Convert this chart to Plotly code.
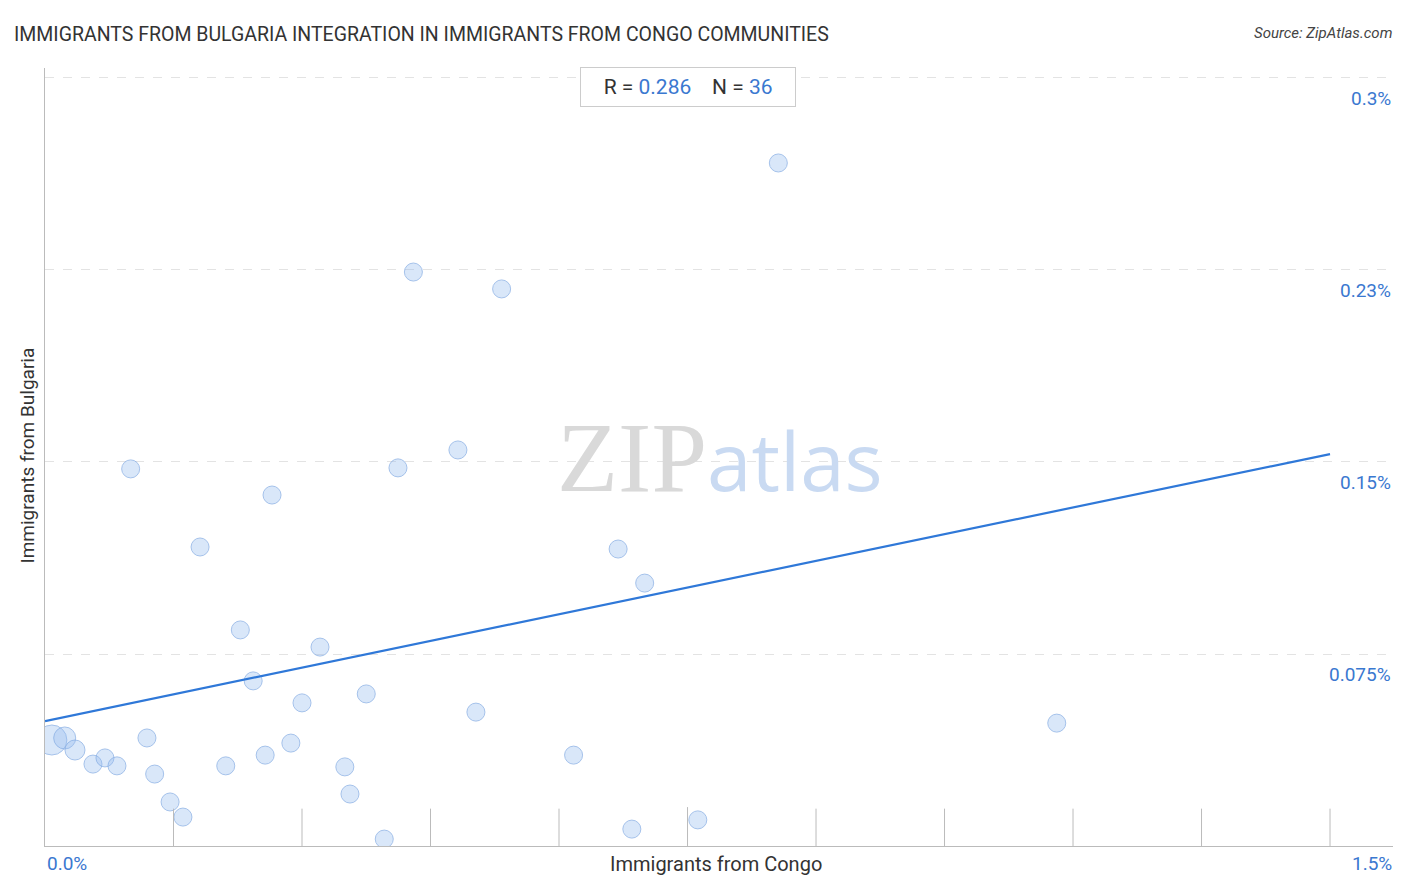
import plotly.graph_objects as go

x = [0.008,0.023,0.035,0.056,0.070,0.084,0.100,0.119,0.128,0.146,0.161,0.181,0.211,0.228,0.243,0.257,0.265,0.287,0.300,0.321,0.350,0.356,0.375,0.396,0.412,0.430,0.482,0.503,0.533,0.617,0.669,0.685,0.700,0.762,0.856,1.181]
y = [0.0414,0.0422,0.0375,0.032,0.0344,0.0313,0.1473,0.0422,0.0281,0.0172,0.0113,0.1168,0.0313,0.0844,0.0645,0.0355,0.1371,0.0402,0.0559,0.0777,0.0309,0.0203,0.0594,0.0027,0.1477,0.2242,0.1547,0.0523,0.2176,0.0355,0.1160,0.0066,0.1027,0.0102,0.2668,0.0480]
sizes = [30,22,20]+[18]*33
trend_x = [0.0, 1.5]
trend_y = [0.0488, 0.1531]
ytick_vals = [0.075, 0.15, 0.225, 0.3]
ytick_text = ["0.075%", "0.15%", "0.23%", "0.3%"]
xtick_vals = [i*0.15 for i in range(11)]

W, H = 1390, 876
L, T, R, B = 37, 60, 5, 38
OX, OY = 8, 8

fig = go.Figure()
fig.add_trace(go.Scatter(x=x, y=y, mode="markers",
    marker=dict(size=sizes, color="rgba(150,188,240,0.5)", line=dict(color="#7fa9e3", width=1))))
fig.add_trace(go.Scatter(x=trend_x, y=trend_y, mode="lines", line=dict(color="#2f78d8", width=2.2)))

shapes = []
for v in xtick_vals[1:]:
    shapes.append(dict(type="line", xref="x", yref="paper", x0=v, x1=v, y0=0,
                       y1=0.05 if abs(v-0.75) < 1e-6 else 0.048,
                       line=dict(color="#bbb", width=1)))
fig.update_layout(shapes=shapes)

pw = W - L - R
ph = H - T - B
def px(xp): return (xp - OX - L) / pw
def py(yp): return (H - B - (yp - OY)) / ph

ann = []
for v, t in zip(ytick_vals, ytick_text):
    ann.append(dict(x=1, xref="paper", y=v, yref="y", text=t, showarrow=False, xanchor="right", yanchor="top", yshift=-7,
                    font=dict(size=19, color="#3a78d0")))
ann += [
    dict(x=px(45), xref="paper", y=py(850), yref="paper", text="0.0%", showarrow=False, xanchor="left", yanchor="top", font=dict(size=19, color="#3a78d0")),
    dict(x=px(1394), xref="paper", y=py(850), yref="paper", text="1.5%", showarrow=False, xanchor="right", yanchor="top", font=dict(size=19, color="#3a78d0")),
    dict(x=px(716), xref="paper", y=py(850), yref="paper", text="Immigrants from Congo", showarrow=False, yanchor="top", font=dict(size=20, color="#333")),
    dict(x=px(13), xref="paper", y=py(456), yref="paper", text="Immigrants from Bulgaria", showarrow=False, textangle=-90, font=dict(size=19, color="#333")),
    dict(x=px(12), xref="paper", y=py(21), yref="paper", text="IMMIGRANTS FROM BULGARIA INTEGRATION IN IMMIGRANTS FROM CONGO COMMUNITIES", showarrow=False, xanchor="left", font=dict(size=19.5, color="#333")),
    dict(x=px(1394), xref="paper", y=py(22), yref="paper", text="<i>Source: ZipAtlas.com</i>", showarrow=False, xanchor="right", font=dict(size=15, color="#444")),
    dict(x=px(688), xref="paper", y=py(67), yref="paper", text="&nbsp;&nbsp;&nbsp;R = <span style='color:#3a78d0'>0.286</span>    N = <span style='color:#3a78d0'>36</span>&nbsp;&nbsp;&nbsp;",
         showarrow=False, font=dict(size=21, color="#333"), bgcolor="white", bordercolor="#ccc", borderwidth=1, borderpad=7),
    dict(x=px(720), xref="paper", y=py(458), yref="paper", text="<span style='color:#d9d9d9;font-family:Liberation Serif;font-size:100px'>ZIP</span><span style='color:#c9daf2;font-family:Open Sans;font-size:80px'>atlas</span>",
         showarrow=False, font=dict(size=90)),
]
fig.update_layout(annotations=ann)

fig.update_layout(width=W, height=H, margin=dict(l=L, r=R, t=T, b=B),
    paper_bgcolor="white", plot_bgcolor="white", showlegend=False,
    font=dict(family="Roboto"),
    xaxis=dict(range=[0, 1.5735], showgrid=False, zeroline=False, showticklabels=False,
               showline=True, linecolor="#bbb"),
    yaxis=dict(range=[0, 0.3039], tickvals=ytick_vals, showticklabels=False, showgrid=True,
               gridcolor="#e3e3e3", griddash="dash", zeroline=False, showline=True, linecolor="#bbb"))
fig.write_html("out.html")
